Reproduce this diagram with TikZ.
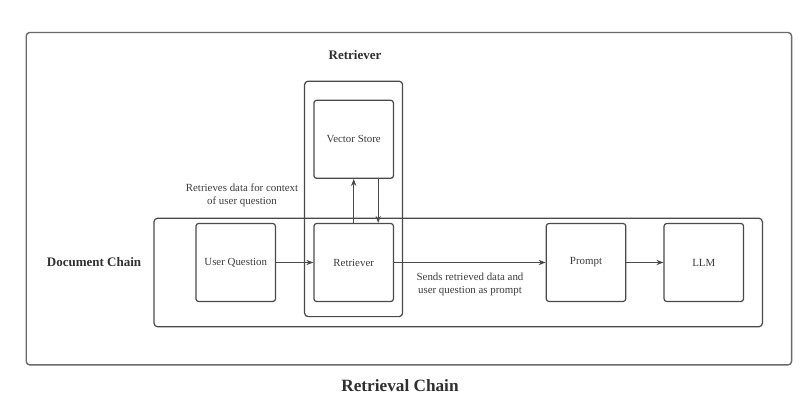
\documentclass[tikz,border=0pt]{standalone}
\usepackage{fontspec}
\setmainfont{Liberation Serif}
\usepackage{xcolor}
\usetikzlibrary{arrows.meta}
\definecolor{edge}{HTML}{4A4A4A}
\definecolor{frame}{HTML}{6A6A6A}
\definecolor{ink}{HTML}{3C3C3C}

\begin{document}
\begin{tikzpicture}[x=0.02cm,y=-0.02cm,line join=round,>={Stealth[length=4pt,width=3pt]},
  box/.style={draw=edge,line width=0.7pt,rounded corners=1.5pt,minimum width=1.59cm,minimum height=1.56cm,text=ink,font=\fontsize{6.2}{7.5}\selectfont},
  group/.style={draw=edge,line width=0.7pt,rounded corners=2pt},
  note/.style={text=ink,align=center,font=\fontsize{6.2}{7.5}\selectfont},
  title/.style={text=ink!80!black,font=\bfseries\fontsize{7.4}{9}\selectfont}]
  \useasboundingbox (0,0) rectangle (802,402);
  % outer chain frame
  \node[group,draw=frame,line width=0.8pt,minimum width=15.31cm,minimum height=6.65cm] (chain) at (408.9,198.7) {};
  % document chain and retriever group
  \node[group,minimum width=12.17cm,minimum height=2.17cm] (doc) at (458.2,272.5) {};
  \node[group,minimum width=1.96cm,minimum height=4.71cm] (grp) at (353.6,198.9) {};
  % steps
  \node[box] (vs) at (353.7,139.3) {Vector Store};
  \node[box] (uq) at (235.7,262.5) {User Question};
  \node[box] (ret) at (353.7,262.5) {Retriever};
  \node[box] (prompt) at (586,262.5) {Prompt};
  \node[box] (llm) at (703.8,262.5) {LLM};
  % connectors
  \draw[->,edge,line width=0.5pt] (uq) -- (ret);
  \draw[->,edge,line width=0.5pt] (ret) -- (prompt);
  \draw[->,edge,line width=0.5pt] (prompt) -- (llm);
  \draw[->,edge,line width=0.5pt] (ret.north) -- (vs.south);
  \draw[->,edge,line width=0.5pt] ([xshift=0.49cm]vs.south) -- ([xshift=0.49cm]ret.north);
  % labels
  \node[title] (grptitle) at (355,55) {Retriever};
  \node[title] (doctitle) at (94,262) {Document Chain};
  \node[title,font=\bfseries\fontsize{9.8}{12}\selectfont] (chaintitle) at (400,386) {Retrieval Chain};
  \node[note] (fetch) at (242,195) {Retrieves data for context\\of user question};
  \node[note] (send) at (470,284) {Sends retrieved data and\\user question as prompt};
\end{tikzpicture}
\end{document}
